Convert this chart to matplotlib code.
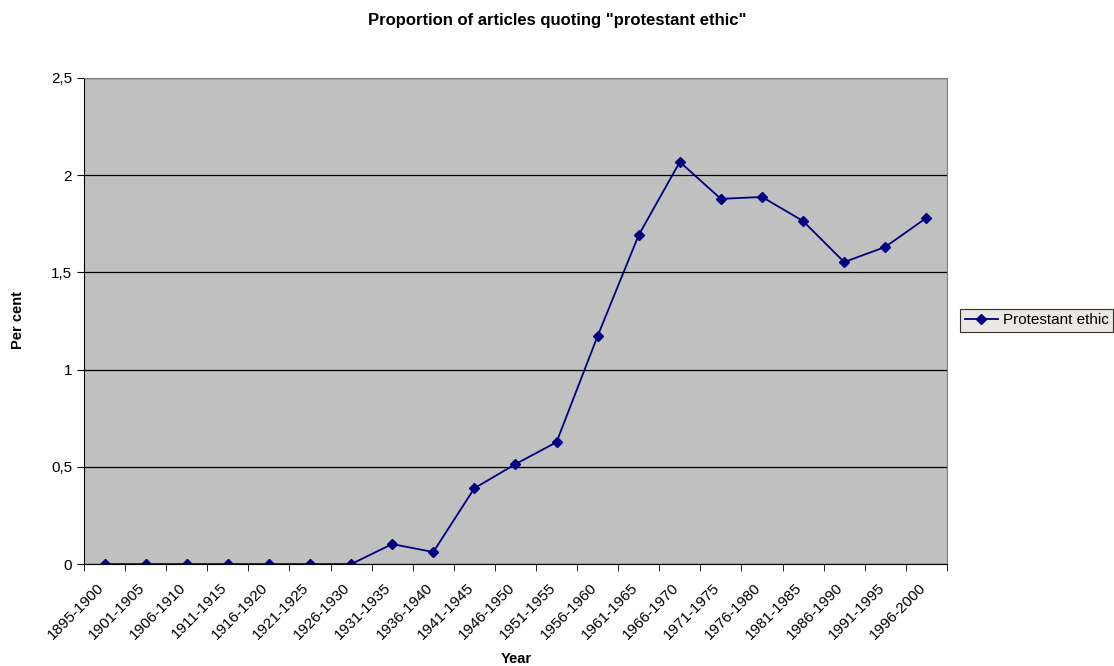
import matplotlib
matplotlib.use("Agg")
import matplotlib.pyplot as plt
import matplotlib.transforms as mtransforms
from matplotlib.ticker import FuncFormatter, FixedLocator

plt.rcParams['font.family'] = ['Liberation Sans', 'DejaVu Sans']

periods = ['1895-1900', '1901-1905', '1906-1910', '1911-1915', '1916-1920',
           '1921-1925', '1926-1930', '1931-1935', '1936-1940', '1941-1945',
           '1946-1950', '1951-1955', '1956-1960', '1961-1965', '1966-1970',
           '1971-1975', '1976-1980', '1981-1985', '1986-1990', '1991-1995',
           '1996-2000']
percent = [0, 0, 0, 0, 0, 0, 0, 0.103, 0.062, 0.39, 0.514, 0.627, 1.173,
           1.692, 2.068, 1.878, 1.888, 1.764, 1.553, 1.631, 1.78]

fig = plt.figure(figsize=(11.14, 6.66), dpi=100)
ax = fig.add_axes([0.0754, 0.153, 0.7746, 0.730])
ax.set_facecolor('#C0C0C0')

x = list(range(len(periods)))
line, = ax.plot(x, percent, color='#000080', lw=1.3, marker='D', markersize=5.5,
                label='Protestant ethic')

ax.set_xlim(-0.5, len(periods) - 0.5)
ax.set_ylim(0, 2.5)
ax.set_yticks([0, 0.5, 1, 1.5, 2, 2.5])
ax.yaxis.set_major_formatter(FuncFormatter(lambda v, p: ('%g' % v).replace('.', ',')))
ax.grid(axis='y', color='black', lw=0.9)
ax.set_axisbelow(True)

# ticks between categories, labels at category centres
ax.set_xticks(x)
ax.set_xticklabels(periods, rotation=45, ha='right', rotation_mode='anchor', fontsize=11)
ax.tick_params(axis='x', which='major', length=0, pad=12)
ax.xaxis.set_minor_locator(FixedLocator([i - 0.5 for i in range(len(periods) + 1)]))
ax.tick_params(axis='x', which='minor', length=5, direction='out', color='black')
ax.tick_params(axis='y', length=5, direction='out', labelsize=11)
shift = mtransforms.ScaledTranslation(-8 / 100, 0, fig.dpi_scale_trans)
for lbl in ax.get_xticklabels():
    lbl.set_transform(lbl.get_transform() + shift)

for s in ['top', 'right']:
    ax.spines[s].set_color('#808080')
for s in ['left', 'bottom']:
    ax.spines[s].set_color('black')

fig.text(516 / 1114, 1 - 659 / 666, 'Year', ha='center', va='center',
         fontsize=10.5, fontweight='bold')
fig.text(18 / 1114, 1 - 320 / 666, 'Per cent', ha='center', va='center',
         rotation=90, fontsize=10.5, fontweight='bold')
fig.text(0.5, 1 - 20 / 666, 'Proportion of articles quoting "protestant ethic"',
         ha='center', va='center', fontsize=12, fontweight='bold')

leg = fig.legend(handles=[line], loc='center left', bbox_to_anchor=(960 / 1114, 0.519),
                 fontsize=11, frameon=True, fancybox=False, handlelength=2.2,
                 handletextpad=0.3, borderpad=0.3, borderaxespad=0)
leg.get_frame().set_facecolor('#E6E2DE')
leg.get_frame().set_edgecolor('black')
leg.get_frame().set_linewidth(0.8)

fig.savefig('out.png', dpi=100)
